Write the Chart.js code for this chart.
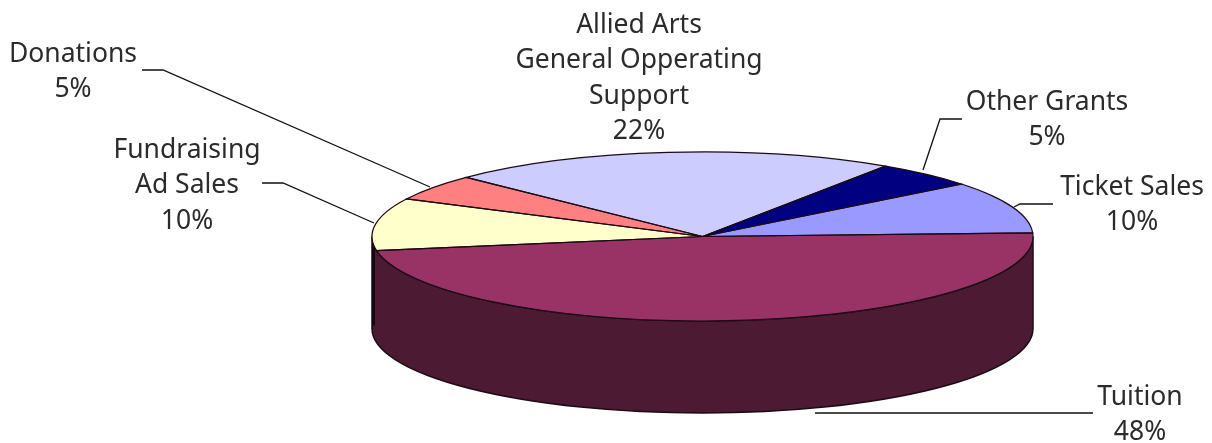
<!DOCTYPE html>
<html>
<head>
<meta charset="utf-8">
<style>
  html, body { margin: 0; padding: 0; background: #fff; }
  canvas { display: block; }
</style>
<script src="https://cdn.jsdelivr.net/npm/chart.js@4"></script>
</head>
<body>
<canvas id="pie" width="1212" height="443"></canvas>
<script>
// data
const categories = ['Tuition', ['Fundraising', 'Ad Sales'], 'Donations',
    ['Allied Arts', 'General Opperating', 'Support'], 'Other Grants', 'Ticket Sales'];
const shares = [48, 10, 5, 22, 5, 10];
const sliceColors = ['#993366', '#FFFFCC', '#FF8080', '#CCCCFF', '#000080', '#9999FF'];

// look of the flattened pie
const pieBox = { cx: 702.5, cy: 236.5, rx: 330.5, ry: 84.5, depth: 92 };
const wallColor = '#4D1A33';
const edgeColor = '#1c0a14';
const textColor = '#2b2b2b';
const lineHeight = 35.5;

// where each label sits (centre x, middle y of first line) and its leader line
const labelSpots = [
    { x: 1140, y: 397, line: [[815, 413], [1093, 413]] },
    { x: 187, y: 150, line: [[262, 183], [283, 183], [374, 223]] },
    { x: 73, y: 54, line: [[142, 70], [163, 70], [430, 187]] },
    { x: 639, y: 25, line: null },
    { x: 1047, y: 102, line: [[923, 170], [940, 119], [962, 119]] },
    { x: 1132, y: 187, line: [[1014, 207], [1020, 204], [1053, 204]] }
];

// squashes the library's round pie onto the ellipse and puts a wall under it
const pie3d = {
    id: 'pie3d',
    beforeDatasetsDraw(chart) {
        const ctx = chart.ctx;
        const b = pieBox;

        // side wall
        ctx.save();
        ctx.fillStyle = wallColor;
        ctx.strokeStyle = edgeColor;
        ctx.lineWidth = 1.5;
        ctx.beginPath();
        ctx.ellipse(b.cx, b.cy, b.rx, b.ry, 0, 0, Math.PI);
        ctx.ellipse(b.cx, b.cy + b.depth, b.rx, b.ry, 0, Math.PI, 0, true);
        ctx.closePath();
        ctx.fill();
        ctx.stroke();

        // the darker strip down the left side
        ctx.strokeStyle = '#160710';
        ctx.lineWidth = 3;
        ctx.beginPath();
        ctx.moveTo(b.cx - b.rx + 1.5, b.cy + 8);
        ctx.lineTo(b.cx - b.rx + 1.5, b.cy + b.depth - 3);
        ctx.stroke();
        ctx.restore();

        const arc = chart.getDatasetMeta(0).data[0];
        ctx.save();
        ctx.translate(b.cx, b.cy);
        ctx.scale(b.rx / arc.outerRadius, b.ry / arc.outerRadius);
        ctx.translate(-arc.x, -arc.y);
    },
    afterDatasetsDraw(chart) {
        const ctx = chart.ctx;
        const b = pieBox;
        ctx.restore();

        // slice outlines, kept out of the squash so the line stays even
        ctx.save();
        ctx.strokeStyle = edgeColor;
        ctx.lineWidth = 1.2;
        chart.getDatasetMeta(0).data.forEach(function(arc) {
            ctx.beginPath();
            ctx.moveTo(b.cx, b.cy);
            ctx.ellipse(b.cx, b.cy, b.rx, b.ry, 0, arc.startAngle, arc.endAngle);
            ctx.closePath();
            ctx.stroke();
        });
        ctx.restore();

        drawLabels(ctx);
    }
};

function drawLabels(ctx) {
    ctx.save();
    ctx.font = '26.5px "Noto Sans"';
    ctx.textAlign = 'center';
    ctx.textBaseline = 'middle';
    categories.forEach(function(cat, i) {
        const spot = labelSpots[i];
        const lines = [].concat(cat, shares[i] + '%');
        ctx.fillStyle = textColor;
        lines.forEach(function(text, n) {
            ctx.fillText(text, spot.x, spot.y + n * lineHeight);
        });
        if (spot.line) {
            ctx.strokeStyle = '#111111';
            ctx.lineWidth = 1.3;
            ctx.beginPath();
            spot.line.forEach(function(p, n) {
                if (n === 0) ctx.moveTo(p[0], p[1]);
                else ctx.lineTo(p[0], p[1]);
            });
            ctx.stroke();
        }
    });
    ctx.restore();
}

new Chart(document.getElementById('pie'), {
    type: 'pie',
    data: {
        labels: categories,
        datasets: [{
            data: shares,
            backgroundColor: sliceColors,
            borderWidth: 0,
            clip: false
        }]
    },
    options: {
        responsive: false,
        animation: false,
        devicePixelRatio: 1,
        rotation: 87.6,
        layout: { padding: 0 },
        plugins: {
            legend: { display: false },
            tooltip: { enabled: false }
        }
    },
    plugins: [pie3d]
});
</script>
</body>
</html>
